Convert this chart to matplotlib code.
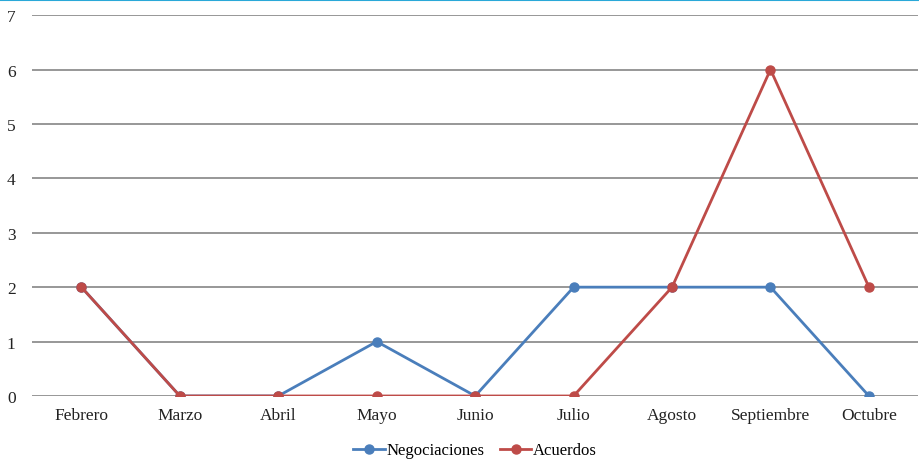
import matplotlib.pyplot as plt
from matplotlib.lines import Line2D

meses = ["Febrero", "Marzo", "Abril", "Mayo", "Junio", "Julio",
         "Agosto", "Septiembre", "Octubre"]
negociaciones = [2, 0, 0, 1, 0, 2, 2, 2, 0]
acuerdos = [2, 0, 0, 0, 0, 0, 2, 6, 2]

plt.rcParams["font.family"] = ["Liberation Serif", "DejaVu Serif"]

fig = plt.figure(figsize=(9.2, 4.6), dpi=100)
ax = fig.add_axes([0.035, 0.137, 0.963, 0.828])

x = range(len(meses))
ax.plot(x, negociaciones, color="#4A7EBB", lw=2, marker="o", ms=6.5,
        label="Negociaciones", zorder=3)
ax.plot(x, acuerdos, color="#BE4B48", lw=2, marker="o", ms=6.5,
        label="Acuerdos", zorder=4)

ax.set_xlim(-0.5, len(meses) - 0.5)
ax.set_ylim(0, 7)
ax.set_yticks(range(0, 8))
ax.set_xticks(list(x))
ax.set_xticklabels(meses)
ax.tick_params(axis="both", length=0, labelsize=12.5, colors="#222222")
ax.tick_params(axis="y", pad=12)
ax.tick_params(axis="x", pad=8)

ax.grid(axis="y", color="#7a7a7a", lw=1.1)
ax.set_axisbelow(True)
for s in ax.spines.values():
    s.set_visible(False)

ax.legend(loc="center", bbox_to_anchor=(0.5, -0.143), ncol=2,
          frameon=False, fontsize=12, handlelength=1.9, handletextpad=0.1,
          columnspacing=0.9, borderpad=0.1)

# línea de borde superior
fig.add_artist(Line2D([0, 1], [0.998, 0.998], color="#2AA8D8", lw=1.5,
                      transform=fig.transFigure))

fig.savefig("out.png", dpi=100)
